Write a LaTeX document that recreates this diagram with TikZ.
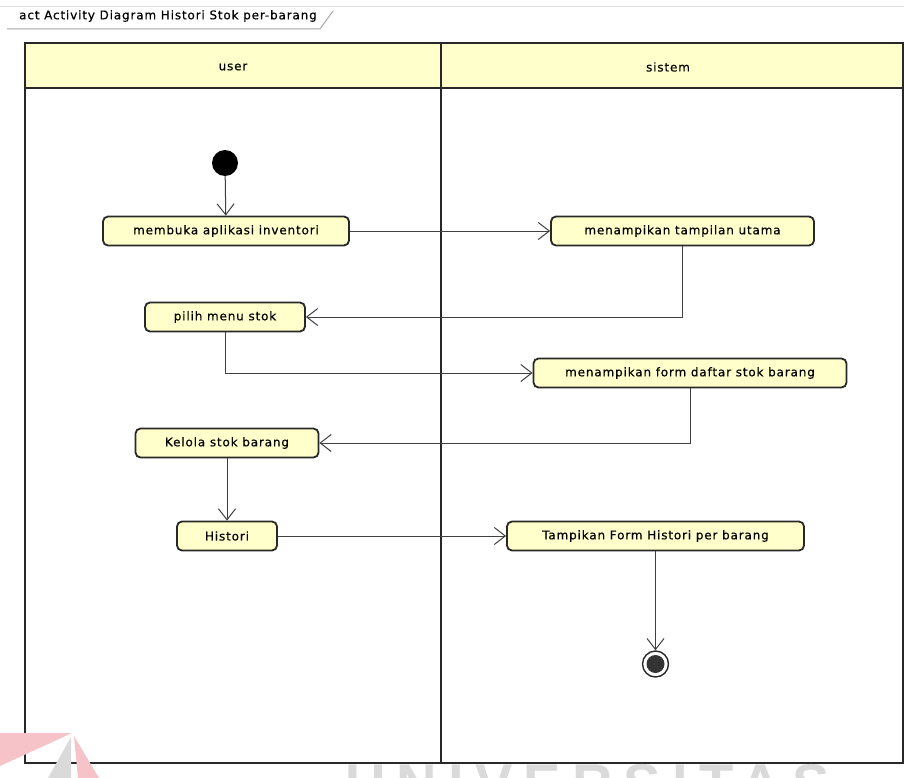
\documentclass[tikz,border=0pt]{standalone}
\usepackage{fontspec}
\usetikzlibrary{arrows.meta}
\newfontfamily\umlfont[LetterSpace=7,FakeBold=0.4]{DejaVu Sans}
\newfontfamily\markfont[LetterSpace=20]{Liberation Sans Bold}
\definecolor{actfill}{RGB}{255,255,204}
\definecolor{edgegray}{RGB}{40,40,40}
\definecolor{markred}{RGB}{246,196,200}
\definecolor{markgray}{RGB}{218,218,218}
\tikzset{
  lane/.style={draw=edgegray, line width=2.6pt},
  lanelabel/.style={font=\umlfont\fontsize{12}{14}\selectfont, text=black},
  action/.style={rectangle, rounded corners=5pt, draw=edgegray, line width=1.8pt,
    fill=actfill, minimum height=29pt, inner sep=2pt,
    font=\umlfont\fontsize{12}{14}\selectfont, text=black},
  initial/.style={circle, fill=black, minimum size=26pt, inner sep=0pt},
  final/.style={circle, draw=edgegray, line width=1.4pt, fill=white,
    minimum size=26pt, inner sep=0pt},
  flow/.style={draw=black!75, line width=1pt,
    -{Straight Barb[length=11pt,width=17pt,line width=1pt]}},
}
\begin{document}
\begin{tikzpicture}[x=1pt,y=-1pt]
\useasboundingbox (0,0) rectangle (904,778);
\fill[white] (0,0) rectangle (904,778);

% frame with its name tab
\draw[gray!25, line width=1pt] (0,7) -- (904,7);
\node[anchor=west, inner sep=0pt, font=\umlfont\fontsize{12}{14}\selectfont] (title)
  at (19,16) {act Activity Diagram Histori Stok per-barang};
\draw[gray!70, line width=1pt] (7,29) -- (320,29) -- (333,11);

% swimlanes
\fill[actfill] (25,43) rectangle (903,88);
\draw[lane] (25,43) rectangle (903,763);
\draw[lane] (25,88) -- (903,88);
\draw[lane] (441,43) -- (441,763);
\node[lanelabel] (userlbl) at (233,67) {user};
\node[lanelabel] (syslbl) at (668,67) {sistem};

% nodes
\node[initial] (start) at (225,163) {};
\node[action, minimum width=246pt] (a1) at (226,231) {membuka aplikasi inventori};
\node[action, minimum width=263pt] (s1) at (682.5,231) {menampikan tampilan utama};
\node[action, minimum width=160pt] (a2) at (225,317) {pilih menu stok};
\node[action, minimum width=313pt] (s2) at (690,373) {menampikan form daftar stok barang};
\node[action, minimum width=183pt] (a3) at (227,443) {Kelola stok barang};
\node[action, minimum width=100pt] (a4) at (227,536) {Histori};
\node[action, minimum width=297pt] (s3) at (655.5,536) {Tampikan Form Histori per barang};
\node[final] (end) at (655.5,664) {};
\fill[black!80] (end.center) circle (9pt);

% control flows
\draw[flow] (start) -- (a1);
\draw[flow] (a1) -- (s1);
\draw[flow] (s1.south) |- (a2.east);
\draw[flow] (a2.south) |- (s2.west);
\draw[flow] (s2.south) |- (a3.east);
\draw[flow] (a3) -- (a4);
\draw[flow] (a4) -- (s3);
\draw[flow] (s3) -- (end);

% faint watermark along the lower edge
\begin{scope}
  \clip (0,0) rectangle (904,778);
  \fill[markred] (0,733) -- (72,733) -- (0,766) -- cycle;
  \fill[markred] (74,736) -- (78,778) -- (99,778) -- cycle;
  \fill[markgray] (71,737) -- (48,778) -- (71,778) -- cycle;
  \node[anchor=base west, inner sep=0pt, text=markgray, font=\markfont\fontsize{56}{60}\selectfont]
    (mark) at (345,803) {UNIVERSITAS};
\end{scope}
\end{tikzpicture}
\end{document}
